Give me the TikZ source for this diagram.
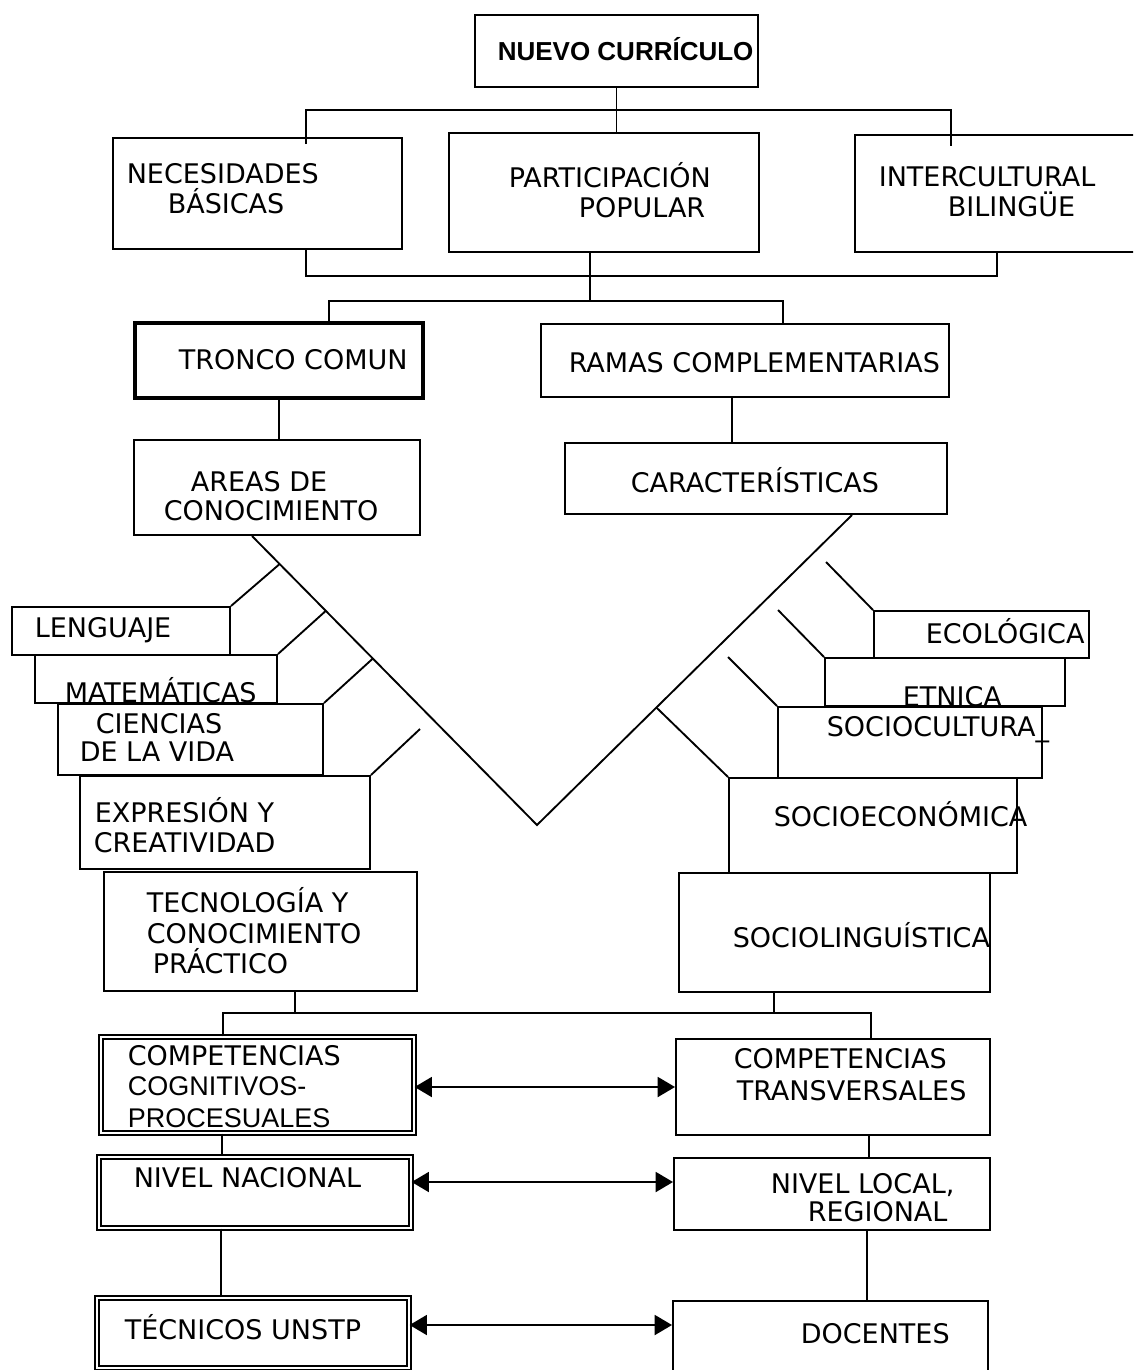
\documentclass[tikz,border=0pt]{standalone}
\usepackage{fontspec}
\setmainfont{DejaVu Sans}
\newfontfamily\arialfont{Liberation Sans}
\usetikzlibrary{fit,calc,arrows.meta}

\tikzset{every picture/.style={line width=1.2pt}}
\tikzset{
  box/.style={draw, inner sep=0pt, line width=1.5pt},
  dbox/.style={draw, inner sep=0pt, double, double distance=2.2pt, line width=0.9pt},
  heavybox/.style={draw, inner sep=0pt, line width=2.5pt},
  lbl/.style={anchor=base west, inner sep=0pt, font=\fontsize{20.25}{22}\selectfont},
  lbla/.style={lbl, font=\arialfont\fontsize{20.25}{22}\selectfont},
  conn/.style={line width=1.4pt},
  biarrow/.style={conn, {Triangle[length=13pt,width=15pt]}-{Triangle[length=13pt,width=15pt]}},
}

\begin{document}
\begin{tikzpicture}[x=0.75pt,y=0.75pt,yscale=-1,xscale=1]
\useasboundingbox (0,0) rectangle (1133,1370);
\clip (0,0) rectangle (1133,1370);

%Boxes: top
\node[box, fit={(475,15) (758,87)}] (nuevo) {};
\node[box, fit={(113,138) (402,249)}] (necesidades) {};
\node[box, fit={(449,133) (759,252)}] (participacion) {};
\node[box, fit={(855,135) (1145,252)}] (intercultural) {};
\node[heavybox, fit={(135,323) (423,398)}] (tronco) {};
\node[box, fit={(541,324) (949,397)}] (ramas) {};
\node[box, fit={(134,440) (420,535)}] (areas) {};
\node[box, fit={(565,443) (947,514)}] (caract) {};
%Boxes: left stack
\node[box, fit={(12,607) (230,655)}] (lenguaje) {};
\node[box, fit={(35,655) (277,703)}] (matematicas) {};
\node[box, fit={(58,704) (323,775)}] (ciencias) {};
\node[box, fit={(80,776) (370,869)}] (expresion) {};
\node[box, fit={(104,872) (417,991)}] (tecnologia) {};
%Boxes: right stack
\node[box, fit={(874,611) (1089,658)}] (ecologica) {};
\node[box, fit={(825,658) (1065,706)}] (etnica) {};
\node[box, fit={(778,707) (1042,778)}] (sociocultural) {};
\node[box, fit={(729,778) (1017,873)}] (socioeco) {};
\node[box, fit={(679,873) (990,992)}] (socioling) {};
%Boxes: bottom
\node[dbox, fit={(101,1037) (414,1133)}] (cognitivos) {};
\node[box, fit={(676,1039) (990,1135)}] (transversales) {};
\node[dbox, fit={(99,1157) (411,1228)}] (nacional) {};
\node[box, fit={(674,1158) (990,1230)}] (local) {};
\node[dbox, fit={(97,1298) (409,1368)}] (tecnicos) {};
\node[box, fit={(673,1301) (988,1390)}] (docentes) {};

% Text Nodes
\node[lbl, font=\arialfont\bfseries\fontsize{19.5}{22}\selectfont] (t-nuevo) at (497,61) {NUEVO CURRÍCULO};
\node[lbl] (t-nec1) at (126,183) {NECESIDADES};
\node[lbl] (t-nec2) at (167,213) {BÁSICAS};
\node[lbl] (t-par1) at (508,187) {PARTICIPACIÓN};
\node[lbl] (t-par2) at (578,217) {POPULAR};
\node[lbl] (t-int1) at (878,186) {INTERCULTURAL};
\node[lbl] (t-int2) at (947,216) {BILINGÜE};
\node[lbl] (t-tronco) at (178,369) {TRONCO COMUN};
\node[lbl] (t-ramas) at (568,372) {RAMAS COMPLEMENTARIAS};
\node[lbl] (t-areas1) at (190,491) {AREAS DE};
\node[lbl] (t-areas2) at (163,520) {CONOCIMIENTO};
\node[lbl] (t-caract) at (630,492) {CARACTERÍSTICAS};
\node[lbl] (t-leng) at (34,637) {LENGUAJE};
\node[lbl] (t-mat) at (64,702) {MATEMÁTICAS};
\node[lbl] (t-cie1) at (95,733) {CIENCIAS};
\node[lbl] (t-cie2) at (79,761) {DE LA VIDA};
\node[lbl] (t-exp1) at (94,822) {EXPRESIÓN Y};
\node[lbl] (t-exp2) at (93,852) {CREATIVIDAD};
\node[lbl] (t-tec1) at (146,912) {TECNOLOGÍA Y};
\node[lbl] (t-tec2) at (146,943) {CONOCIMIENTO};
\node[lbl] (t-tec3) at (152,973) {PRÁCTICO};
\node[lbl] (t-eco) at (925,643) {ECOLÓGICA};
\node[lbl] (t-etn) at (902,706) {ETNICA};
\node[lbl] (t-soc) at (826,736) {SOCIOCULTURA\_};
\node[lbl] (t-seco) at (773,826) {SOCIOECONÓMICA};
\node[lbl] (t-sling) at (732,947) {SOCIOLINGUÍSTICA};
\node[lbl] (t-cog1) at (127,1065) {COMPETENCIAS};
\node[lbla] (t-cog2) at (127,1095) {COGNITIVOS-};
\node[lbla] (t-cog3) at (127,1127) {PROCESUALES};
\node[lbl] (t-tra1) at (733,1068) {COMPETENCIAS};
\node[lbl] (t-tra2) at (736,1100) {TRANSVERSALES};
\node[lbl] (t-nac) at (133,1187) {NIVEL NACIONAL};
\node[lbl] (t-loc1) at (770,1193) {NIVEL LOCAL,};
\node[lbl] (t-loc2) at (807,1221) {REGIONAL};
\node[lbl] (t-tecn) at (124,1339) {TÉCNICOS UNSTP};
\node[lbl] (t-doc) at (800,1343) {DOCENTES};

%Connectors: top
\coordinate (bus1) at (616,110);
\coordinate (bus2) at (590,276);
\coordinate (bus3) at (590,301);
\draw[conn] (nuevo.south) -- (nuevo.south |- participacion.north);
\draw[conn] ($(necesidades.north)+(48.5,7)$) |- (bus1) -| ($(intercultural.north)+(-49,12)$);
\draw[conn] ($(necesidades.south)+(48.5,0)$) |- (bus2) -| ($(intercultural.south)+(-3,0)$);
\draw[conn] ($(participacion.south)+(-14,0)$) -- (bus3);
\draw[conn] ($(tronco.north)+(50,0)$) |- (bus3) -| ($(ramas.north)+(38,0)$);
\draw[conn] (tronco.south) -- (tronco.south |- areas.north);
\draw[conn] ($(ramas.south)+(-13,0)$) coordinate (r1) -- (r1 |- caract.north);

%Connectors: V and branches
\coordinate (armL) at ($(areas.south)+(-25,0)$);
\coordinate (armR) at ($(caract.south)+(96,0)$);
\coordinate (vtip) at (537,825);
\draw[conn] (armL) -- (vtip) -- (armR);
\draw[conn] ($(armL)!0.097!(vtip)$) -- (lenguaje.north east);
\draw[conn] ($(armL)!0.259!(vtip)$) -- (matematicas.north east);
\draw[conn] ($(armL)!0.424!(vtip)$) -- (ciencias.north east);
\draw[conn] (expresion.north east) -- ++(49,-46);
\draw[conn] (ecologica.north west) -- ++(-47,-48);
\draw[conn] (etnica.north west) -- ++(-46,-47);
\draw[conn] (sociocultural.north west) -- ++(-49,-49);
\draw[conn] ($(armR)!0.621!(vtip)$) -- (socioeco.north west);

%Connectors: bottom
\coordinate (bus4) at (295,1013);
\draw[conn] ($(tecnologia.south)+(34.5,0)$) -- (bus4);
\draw[conn] ($(socioling.south)+(-60.5,0)$) |- (bus4);
\draw[conn] ($(cognitivos.north)+(-34.5,0)$) |- (bus4) -| ($(transversales.north)+(38,0)$);
\draw[conn] ($(cognitivos.south)+(-35.5,0)$) coordinate (c1) -- (c1 |- nacional.north);
\draw[conn] ($(transversales.south)+(36,0)$) coordinate (c2) -- (c2 |- local.north);
\draw[conn] ($(nacional.south)+(-34,0)$) coordinate (c3) -- (c3 |- tecnicos.north);
\draw[conn] ($(local.south)+(35,0)$) coordinate (c4) -- (c4 |- docentes.north);

%Arrows
\coordinate (a1) at (0,1087);
\coordinate (a2) at (0,1182);
\coordinate (a3) at (0,1325);
\draw[biarrow] (cognitivos.east |- a1) -- (transversales.west |- a1);
\draw[biarrow] (nacional.east |- a2) -- (local.west |- a2);
\draw[biarrow] (tecnicos.east |- a3) -- (docentes.west |- a3);
\end{tikzpicture}
\end{document}
